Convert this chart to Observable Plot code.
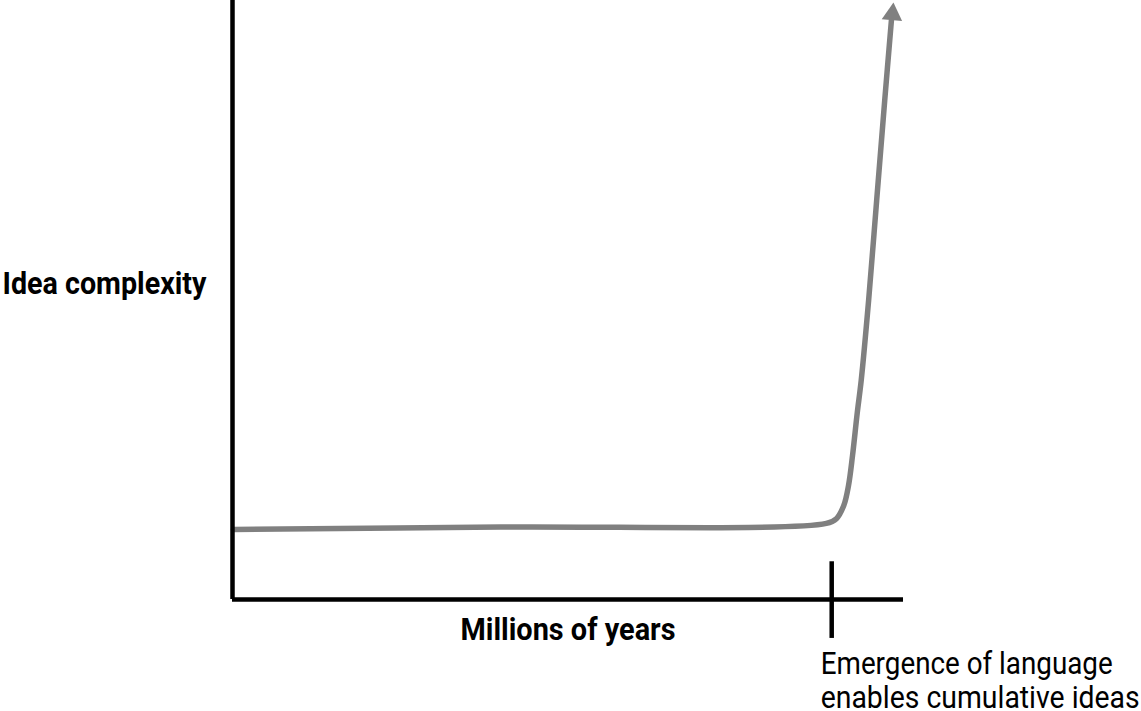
<!DOCTYPE html>
<html><head><meta charset="utf-8">
<script src="https://cdn.jsdelivr.net/npm/d3@7"></script>
<script src="https://cdn.jsdelivr.net/npm/@observablehq/plot@0.6"></script>
<style>
html,body{margin:0;padding:0;background:#fff;}
svg{display:block}
</style>
</head><body><div id="chart"></div>
<script>
// Abstract units: time 0..100 (x axis), complexity 0..100 (y axis)
const time =       [0.15, 40.0, 88.5, 90.0, 91.1, 91.8, 92.4, 93.1, 93.7, 94.8, 96.0, 97.2, 98.2];
const complexity = [11.7, 12.1, 12.7, 13.5, 15.7, 19.0, 24.0, 31.1, 36.6, 49.9, 66.6, 83.3, 96.7];
const arrowTime = [98.35];
const arrowComplexity = [97.7];
const languageTime = [89.3];
const languageTickRange = [6.3, -6.5];
const xLabel = ["Millions of years"];
const yLabel = ["Idea complexity"];
const annotationLine1 = ["Emergence of language"];
const annotationLine2 = ["enables cumulative ideas"];

const curve = time.map((t, i) => ({time: t, complexity: complexity[i]}));
const arrow = arrowTime.map((t, i) => ({time: t, complexity: arrowComplexity[i]}));

const font = "Roboto, 'Liberation Sans', sans-serif";
const textBase = {text: d => d, lineAnchor: "top", fontSize: 31, fill: "black"};

const chart = Plot.plot({
  width: 1141,
  height: 711,
  marginLeft: 232,
  marginRight: 238,
  marginTop: 0,
  marginBottom: 112,
  x: {domain: [0, 100], axis: null},
  y: {domain: [0, 100], axis: null},
  style: {fontFamily: font, background: "#fff"},
  marks: [
    Plot.line(curve, {x: "time", y: "complexity", stroke: "#808080", strokeWidth: 5.5, curve: "catmull-rom"}),
    Plot.dot(arrow, {x: "time", y: "complexity", symbol: "triangle", r: 7.6, fill: "#808080", stroke: null, rotate: 5}),
    Plot.ruleX([0], {y1: 0, y2: 100, stroke: "black", strokeWidth: 4.5}),
    Plot.ruleY([0], {x1: 0, x2: 100, stroke: "black", strokeWidth: 4.5}),
    Plot.ruleX(languageTime, {x: d => d, y1: languageTickRange[0], y2: languageTickRange[1], stroke: "black", strokeWidth: 4.5}),
    Plot.text(yLabel, {...textBase, className: "lbl-y", frameAnchor: "top-left", dx: -230, dy: 271, textAnchor: "start", fontWeight: "bold"}),
    Plot.text(xLabel, {...textBase, className: "lbl-x", frameAnchor: "bottom", dy: 18, fontWeight: "bold"}),
    Plot.text(annotationLine1, {...textBase, className: "ann-1", x: languageTime[0], frameAnchor: "bottom", textAnchor: "start", dx: -11, dy: 52}),
    Plot.text(annotationLine2, {...textBase, className: "ann-2", x: languageTime[0], frameAnchor: "bottom", textAnchor: "start", dx: -11, dy: 86})
  ]
});
// squeeze glyphs to the condensed widths of the reference typeface
const widths = {"lbl-y": 204, "lbl-x": 215, "ann-1": 292, "ann-2": 319};
for (const [cls, w] of Object.entries(widths)) {
  d3.select(chart).selectAll(`g.${cls} text`).attr("textLength", w).attr("lengthAdjust", "spacingAndGlyphs");
}
document.getElementById("chart").appendChild(chart);
</script>
</body></html>
